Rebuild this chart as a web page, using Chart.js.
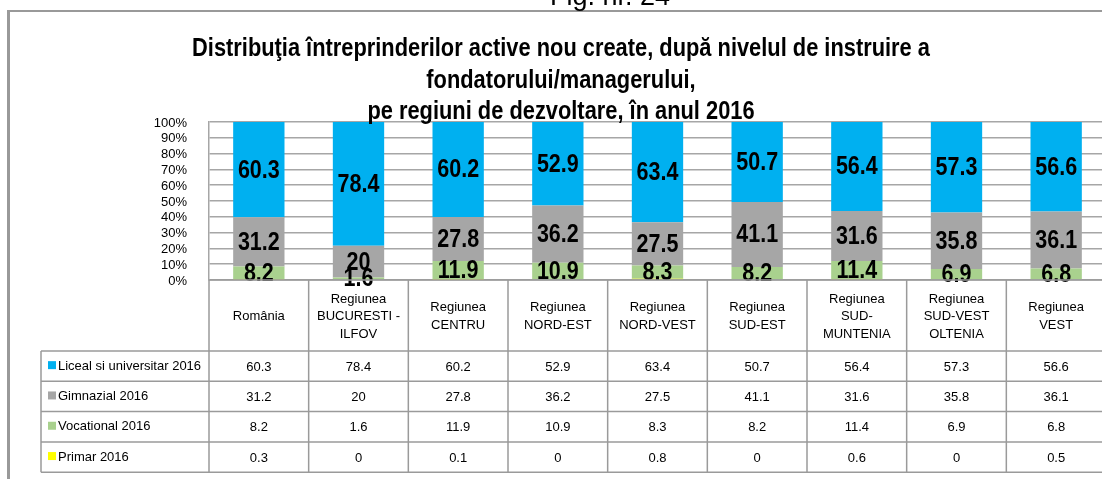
<!DOCTYPE html>
<html>
<head>
<meta charset="utf-8">
<script src="https://cdn.jsdelivr.net/npm/chart.js@4.4.1/dist/chart.umd.min.js"></script>
<style>
  html, body { margin: 0; padding: 0; background: #fff; overflow: hidden; }
  #wrap { position: relative; width: 1106px; height: 479px; }
</style>
</head>
<body>
<div id="wrap"><canvas id="chart" width="1106" height="479"></canvas></div>
<script>
const regions = [
  ["România"],
  ["Regiunea", "BUCURESTI -", "ILFOV"],
  ["Regiunea", "CENTRU"],
  ["Regiunea", "NORD-EST"],
  ["Regiunea", "NORD-VEST"],
  ["Regiunea", "SUD-EST"],
  ["Regiunea", "SUD-", "MUNTENIA"],
  ["Regiunea", "SUD-VEST", "OLTENIA"],
  ["Regiunea", "VEST"]
];
const liceal = [60.3, 78.4, 60.2, 52.9, 63.4, 50.7, 56.4, 57.3, 56.6];
const gimnazial = [31.2, 20, 27.8, 36.2, 27.5, 41.1, 31.6, 35.8, 36.1];
const vocational = [8.2, 1.6, 11.9, 10.9, 8.3, 8.2, 11.4, 6.9, 6.8];
const primar = [0.3, 0, 0.1, 0, 0.8, 0, 0.6, 0, 0.5];
const yTicks = [0, 10, 20, 30, 40, 50, 60, 70, 80, 90, 100];
const titleLines = [
  "Distribuţia întreprinderilor active nou create, după nivelul de instruire a",
  "fondatorului/managerului,",
  "pe regiuni de dezvoltare, în anul 2016"
];

const FONT = "'Liberation Sans', Arial, sans-serif";

// table rows, top to bottom, as in the picture
const tableRows = [
  { name: "Liceal si universitar 2016", values: liceal, color: "#00b0f0" },
  { name: "Gimnazial 2016", values: gimnazial, color: "#a6a6a6" },
  { name: "Vocational 2016", values: vocational, color: "#a9d18e" },
  { name: "Primar 2016", values: primar, color: "#ffff00" }
];

// text squeezed sideways, to look like Arial Narrow
function narrowText(ctx, text, x, y, sx) {
  ctx.save();
  ctx.translate(x, y);
  ctx.scale(sx, 1);
  ctx.fillText(text, 0, 0);
  ctx.restore();
}

// white background, frame and "Fig. nr. 24"
const framePlugin = {
  id: "frame",
  beforeDraw(chart) {
    const ctx = chart.ctx;
    ctx.save();
    ctx.fillStyle = "#fff";
    ctx.fillRect(0, 0, chart.width, chart.height);
    ctx.fillStyle = "#999";
    ctx.fillRect(7, 10, 1100, 2);
    ctx.fillRect(7, 10, 3, 470);
    ctx.fillStyle = "#000";
    ctx.font = "27px " + FONT;
    ctx.textAlign = "left";
    ctx.textBaseline = "alphabetic";
    ctx.fillText("Fig. nr. 24", 550, 5);
    ctx.restore();
  },
  afterDraw(chart) {
    // title goes on top of the plot, its last line touches the grid
    const ctx = chart.ctx;
    ctx.save();
    ctx.fillStyle = "#000";
    ctx.font = "bold 26px " + FONT;
    ctx.textAlign = "center";
    ctx.textBaseline = "alphabetic";
    titleLines.forEach((t, k) => narrowText(ctx, t, 561, 56 + k * 31.5, 0.84));
    ctx.restore();
  }
};

// y tick labels, value labels inside the bars
const labelPlugin = {
  id: "barLabels",
  afterDatasetsDraw(chart) {
    const ctx = chart.ctx;
    const y = chart.scales.y;
    ctx.save();
    ctx.fillStyle = "#000";
    ctx.font = "13px " + FONT;
    ctx.textAlign = "right";
    ctx.textBaseline = "middle";
    yTicks.forEach((v) => ctx.fillText(v + "%", 187, y.getPixelForValue(v) + 1));

    ctx.font = "bold 25px " + FONT;
    ctx.textAlign = "center";
    chart.data.datasets.forEach((ds, di) => {
      if (ds.label === "Primar 2016") return;
      chart.getDatasetMeta(di).data.forEach((bar, i) => {
        narrowText(ctx, String(ds.data[i]), bar.x, (bar.y + bar.base) / 2 + 1, 0.86);
      });
    });
    ctx.restore();
  }
};

// data table under the plot
const tablePlugin = {
  id: "dataTable",
  afterDraw(chart) {
    const ctx = chart.ctx;
    const x = chart.scales.x;
    const area = chart.chartArea;
    const colW = x.width / regions.length;
    const top = area.bottom;
    const headH = 71;
    const rowH = 30.3;
    const legendLeft = 41;
    const right = area.right;
    const tableBottom = top + headH + rowH * tableRows.length;

    ctx.save();
    ctx.strokeStyle = "#9a9a9a";
    ctx.lineWidth = 1.5;

    ctx.beginPath();
    ctx.moveTo(area.left, top); ctx.lineTo(right, top);
    for (let r = 0; r <= tableRows.length; r++) {
      const yy = top + headH + r * rowH;
      ctx.moveTo(legendLeft, yy); ctx.lineTo(right, yy);
    }
    ctx.moveTo(legendLeft, top + headH); ctx.lineTo(legendLeft, tableBottom);
    for (let c = 0; c <= regions.length; c++) {
      const xx = area.left + c * colW;
      ctx.moveTo(xx, top); ctx.lineTo(xx, tableBottom);
    }
    ctx.stroke();

    ctx.fillStyle = "#000";
    ctx.font = "13px " + FONT;
    ctx.textAlign = "center";
    ctx.textBaseline = "middle";

    // header: category names
    regions.forEach((lines, i) => {
      const cx = x.getPixelForValue(i);
      const lh = 17.5;
      const y0 = top + headH / 2 - (lines.length - 1) * lh / 2 + 1;
      lines.forEach((t, k) => ctx.fillText(t, cx, y0 + k * lh));
    });

    // legend keys + values
    tableRows.forEach((row, r) => {
      const cy = top + headH + r * rowH + rowH / 2;
      ctx.fillStyle = row.color;
      ctx.fillRect(legendLeft + 7, cy - 5, 8, 8);
      ctx.fillStyle = "#000";
      ctx.textAlign = "left";
      ctx.fillText(row.name, legendLeft + 17, cy);
      ctx.textAlign = "center";
      row.values.forEach((v, i) => ctx.fillText(String(v), x.getPixelForValue(i), cy + 1));
    });
    ctx.restore();
  }
};

new Chart(document.getElementById("chart"), {
  type: "bar",
  data: {
    labels: regions.map((r) => r.join(" ")),
    datasets: [
      { label: "Primar 2016", data: primar, backgroundColor: "#ffff00" },
      { label: "Vocational 2016", data: vocational, backgroundColor: "#a9d18e" },
      { label: "Gimnazial 2016", data: gimnazial, backgroundColor: "#a6a6a6" },
      { label: "Liceal si universitar 2016", data: liceal, backgroundColor: "#00b0f0" }
    ]
  },
  options: {
    responsive: false,
    animation: false,
    events: [],
    datasets: {
      bar: { categoryPercentage: 1, barPercentage: 0.515, borderWidth: 0 }
    },
    layout: { padding: { top: 122, left: 0, right: 0, bottom: 199 } },
    plugins: {
      legend: { display: false },
      tooltip: { enabled: false },
      title: { display: false }
    },
    scales: {
      x: {
        display: false,
        stacked: true
      },
      y: {
        stacked: true,
        min: 0,
        max: 100,
        afterFit(scale) { scale.width = 209; },
        afterBuildTicks(scale) { scale.ticks = yTicks.map((v) => ({ value: v })); },
        ticks: { display: false },
        grid: { color: "#a6a6a6", lineWidth: 1.5, drawTicks: false },
        border: { display: true, color: "#a6a6a6", width: 1.5 }
      }
    }
  },
  plugins: [framePlugin, labelPlugin, tablePlugin]
});
</script>
</body>
</html>
